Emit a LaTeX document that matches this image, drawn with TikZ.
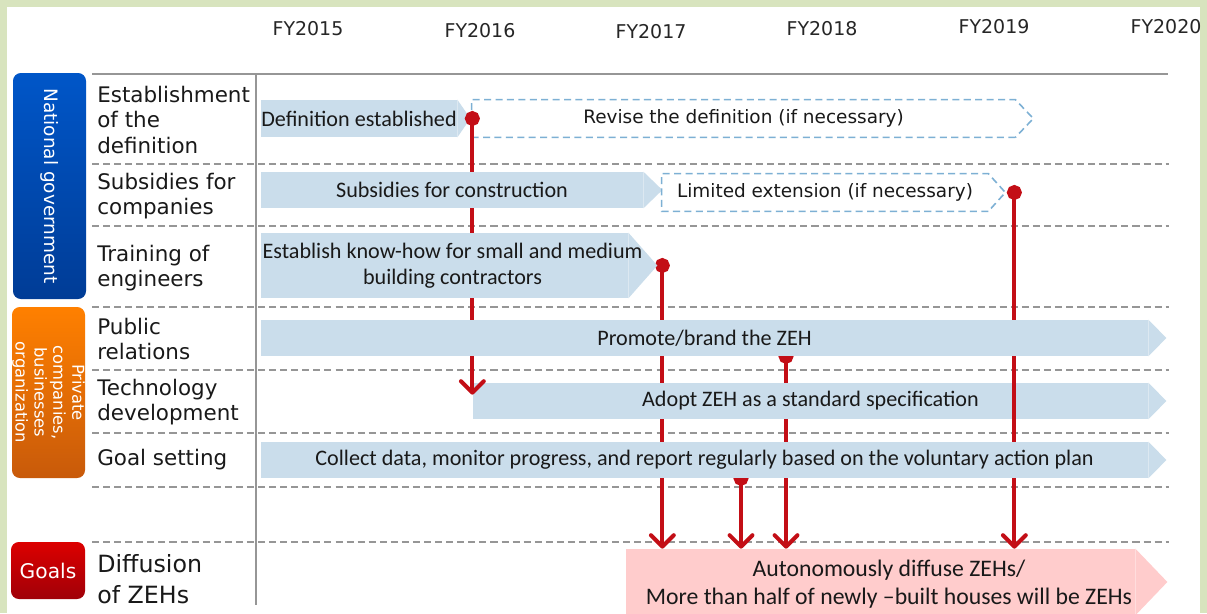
\documentclass[tikz,border=0pt]{standalone}
\usepackage{fontspec}
\setmainfont{Carlito}
\newfontfamily\verdfont{DejaVu Sans}
\usetikzlibrary{arrows.meta, calc}

\definecolor{framegreen}{RGB}{216,228,190}
\definecolor{barblue}{RGB}{202,221,235}
\definecolor{dashblue}{RGB}{125,176,212}
\definecolor{goalpink}{RGB}{255,204,204}
\definecolor{arrowred}{RGB}{195,14,22}
\definecolor{linegray}{RGB}{150,150,150}
\definecolor{govtop}{RGB}{0,86,200}
\definecolor{govbot}{RGB}{0,60,150}
\definecolor{privtop}{RGB}{255,128,0}
\definecolor{privbot}{RGB}{200,90,10}
\definecolor{goaltop}{RGB}{220,0,0}
\definecolor{goalbot}{RGB}{160,0,8}

\newdimen\pxu \pxu=0.02cm

\pgfdeclarelayer{bg}
\pgfdeclarelayer{low}
\pgfdeclarelayer{mid}
\pgfdeclarelayer{high}
\pgfsetlayers{bg,low,mid,high,main}

\begin{document}
\begin{tikzpicture}[
    x=0.02cm, y=-0.02cm,
    font=\fontsize{12.6}{15}\selectfont,
    yearlabel/.style={
        font=\verdfont\fontsize{10.8}{12}\selectfont, text=black!85
    },
    rowlabel/.style={
        anchor=west, align=left, inner sep=0pt, font=\verdfont\fontsize{12.2}{14.7}\selectfont, text=black!90
    },
    catbox/.style={
        rounded corners=4.5pt, inner sep=0pt
    },
    cattext/.style={
        text=white, align=center, font=\verdfont\fontsize{10.5}{11}\selectfont
    },
    bar/.style={
        fill=barblue, inner sep=0pt, align=center, text=black!90
    },
    bartext/.style={
        inner sep=0pt, align=center, text=black!90
    },
    dashbar/.style={
        inner sep=0pt, align=center, font=\verdfont\fontsize{10.5}{12}\selectfont, text=black!90
    },
    dashedge/.style={
        draw=dashblue, line width=0.9pt, dash pattern=on 4pt off 2.5pt
    },
    sepline/.style={
        draw=linegray, line width=0.8pt, dash pattern=on 4pt off 2.3pt
    },
    redarrow/.style={
        draw=arrowred, line width=2.3pt, shorten <=-4.25pt,
        {Circle[length=8.5pt]}-{Straight Barb[length=6.5pt, width=13pt, round]}
    }
]

    \useasboundingbox (0,0) rectangle (1207,613);

    % Frame and grid
    \begin{pgfonlayer}{bg}
        \fill[framegreen] (0,0) rectangle (1207,613);
        \fill[white] (7,7) rectangle (1200,613);
        \draw[linegray, line width=1.3pt] (92,74) -- (1168,74);
        \draw[linegray, line width=1.1pt] (256,74) -- (256,605);
        \draw[sepline] (92,164) -- (1169,164);
        \draw[sepline] (92,226) -- (1169,226);
        \draw[sepline] (92,307) -- (1169,307);
        \draw[sepline] (92,370) -- (1169,370);
        \draw[sepline] (92,433) -- (1169,433);
        \draw[sepline] (92,487) -- (1169,487);
        \draw[sepline] (92,542) -- (1169,542);
    \end{pgfonlayer}

    % Years
    \node[yearlabel] (fy15) at (308,29) {FY2015};
    \node[yearlabel] (fy16) at (480,31) {FY2016};
    \node[yearlabel] (fy17) at (651,32) {FY2017};
    \node[yearlabel] (fy18) at (822,29) {FY2018};
    \node[yearlabel] (fy19) at (994,27) {FY2019};
    \node[yearlabel] (fy20) at (1166,27) {FY2020};

    % Actor boxes
    \node[catbox, top color=govtop, bottom color=govbot, minimum width=73\pxu, minimum height=226\pxu] (govbox) at (49.5,186) {};
    \node[cattext, rotate=-90] (govtext) at (govbox.center) {National government};
    \node[catbox, top color=privtop, bottom color=privbot, minimum width=73\pxu, minimum height=171\pxu] (privbox) at (48.5,392.5) {};
    \node[cattext, rotate=-90, font=\verdfont\fontsize{9.3}{10.8}\selectfont] (privtext) at (privbox.center) {Private\\companies,\\businesses\\organization};
    \node[catbox, top color=goaltop, bottom color=goalbot, minimum width=74\pxu, minimum height=57\pxu] (goalbox) at (48,570.5) {};
    \node[cattext, font=\verdfont\fontsize{11.5}{12}\selectfont] (goaltext) at (goalbox.center) {Goals};

    % Row labels
    \node[rowlabel] (lbldef) at (97,120) {Establishment\\of the\\definition};
    \node[rowlabel] (lblsub) at (97,196) {Subsidies for\\companies};
    \node[rowlabel] (lbltrain) at (97,268) {Training of\\engineers};
    \node[rowlabel] (lblpr) at (97,339) {Public\\relations};
    \node[rowlabel] (lbltech) at (97,402) {Technology\\development};
    \node[rowlabel] (lblgoal) at (97,460) {Goal setting};
    \node[rowlabel, font=\verdfont\fontsize{13.5}{18}\selectfont] (lbldiff) at (97,579) {Diffusion\\of ZEHs};

    % Bars under the first red lines
    \begin{pgfonlayer}{mid}
        \node[bar, minimum width=196\pxu, minimum height=37\pxu] (defbar) at (359,118.5) {Definition established};
        \fill[barblue] (defbar.north east) -- ($(defbar.east)+(13,0)$) -- (defbar.south east) -- cycle;
        \node[dashbar, minimum width=543\pxu, minimum height=37\pxu] (revbar) at (743.5,118.5) {Revise the definition (if necessary)};
        \draw[dashedge] (revbar.south east) -- (revbar.south west) -- (revbar.north west) -- (revbar.north east) -- ($(revbar.east)+(18,0)$) -- cycle;
        \node[bar, minimum width=675\pxu, minimum height=36\pxu] (adoptbar) at (810.5,401) {Adopt ZEH as a standard specification};
        \fill[barblue] (adoptbar.north east) -- ($(adoptbar.east)+(18,0)$) -- (adoptbar.south east) -- cycle;
    \end{pgfonlayer}

    % Top bars
    \node[bar, minimum width=382\pxu, minimum height=36\pxu] (subbar) at (452,190) {Subsidies for construction};
    \fill[barblue] (subbar.north east) -- ($(subbar.east)+(19,0)$) -- (subbar.south east) -- cycle;
    \node[dashbar, minimum width=326\pxu, minimum height=37\pxu] (limbar) at (825,192.5) {Limited extension (if necessary)};
    \draw[dashedge] (limbar.south east) -- (limbar.south west) -- (limbar.north west) -- (limbar.north east) -- ($(limbar.east)+(17,0)$) -- cycle;
    \node[bar, minimum width=367\pxu, minimum height=65\pxu] (trainbar) at (444.5,265.5) {};
    \fill[barblue] (trainbar.north east) -- ($(trainbar.east)+(29,0)$) -- (trainbar.south east) -- cycle;
    \node[bartext] (traintext) at (452.5,266) {Establish know-how for small and medium\\building contractors};
    \node[bar, minimum width=887\pxu, minimum height=36\pxu] (promobar) at (704.5,338) {Promote/brand the ZEH};
    \fill[barblue] (promobar.north east) -- ($(promobar.east)+(18,0)$) -- (promobar.south east) -- cycle;
    \node[bar, minimum width=887\pxu, minimum height=36\pxu] (collbar) at (704.5,460) {Collect data, monitor progress, and report regularly based on the voluntary action plan};
    \fill[barblue] (collbar.north east) -- ($(collbar.east)+(18,0)$) -- (collbar.south east) -- cycle;
    \node[bar, fill=goalpink, minimum width=509\pxu, minimum height=66\pxu] (goalbar) at (880.5,582) {};
    \fill[goalpink] (goalbar.north east) -- ($(goalbar.east)+(32,0)$) -- (goalbar.south east) -- cycle;
    \node[bartext, font=\fontsize{13.5}{16}\selectfont] (goalbartext) at (889,584) {Autonomously diffuse ZEHs/\\More than half of newly –built houses will be ZEHs};

    % Red links
    \coordinate (defpt) at ($(defbar.east)+(15,0)$);
    \coordinate (trainpt) at ($(trainbar.east)+(34,0)$);
    \coordinate (limpt) at ($(limbar.east)+(26,0)$);
    \coordinate (promopt) at ($(promobar.south)+(81.5,0)$);
    \coordinate (collpt) at ($(collbar.south)+(36.5,0)$);

    \begin{pgfonlayer}{low}
        \draw[redarrow] (trainpt) -- (trainpt |- goalbar.north);
        \draw[redarrow] (promopt) -- (promopt |- goalbar.north);
        \draw[redarrow] (collpt) -- (collpt |- goalbar.north);
    \end{pgfonlayer}
    \begin{pgfonlayer}{high}
        \draw[redarrow] (defpt) -- ($(defpt |- adoptbar.north)+(0,12)$);
        \draw[redarrow] (limpt) -- (limpt |- goalbar.north);
    \end{pgfonlayer}

\end{tikzpicture}
\end{document}
